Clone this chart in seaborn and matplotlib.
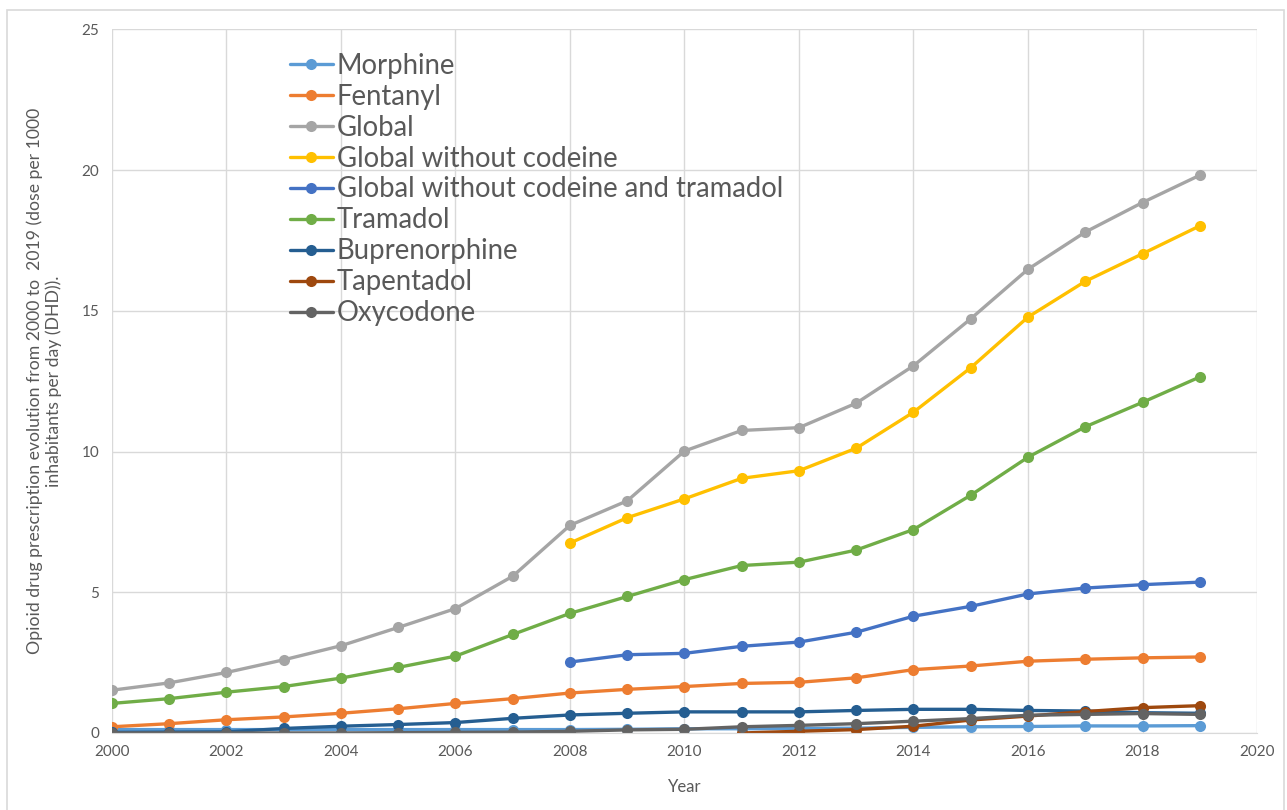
import numpy as np
import seaborn as sns
import matplotlib.pyplot as plt
from matplotlib.patches import Rectangle

# Jahre und Werte (DHD)
years = list(range(2000, 2020))
nan = np.nan

morphine = [0.12, 0.12, 0.12, 0.12, 0.12, 0.12, 0.12, 0.12, 0.12, 0.13,
            0.15, 0.15, 0.16, 0.17, 0.2, 0.22, 0.23, 0.25, 0.25, 0.26]
fentanyl = [0.22, 0.33, 0.47, 0.57, 0.7, 0.86, 1.05, 1.22, 1.42, 1.55,
            1.65, 1.76, 1.8, 1.96, 2.25, 2.38, 2.55, 2.62, 2.67, 2.7]
global_all = [1.52, 1.78, 2.15, 2.6, 3.1, 3.75, 4.42, 5.57, 7.38, 8.25,
              10.02, 10.75, 10.85, 11.72, 13.05, 14.72, 16.48, 17.8, 18.85, 19.82]
global_no_codeine = [nan] * 8 + [6.75, 7.65, 8.32, 9.05, 9.32, 10.12, 11.4,
                                 12.98, 14.78, 16.05, 17.03, 18.02]
global_no_codeine_tramadol = [nan] * 8 + [2.52, 2.78, 2.83, 3.08, 3.23, 3.58,
                                          4.15, 4.5, 4.94, 5.15, 5.27, 5.36]
tramadol = [1.05, 1.22, 1.45, 1.65, 1.95, 2.33, 2.73, 3.5, 4.25, 4.85,
            5.45, 5.95, 6.07, 6.5, 7.23, 8.45, 9.8, 10.88, 11.75, 12.65]
buprenorphine = [0.02, 0.03, 0.04, 0.16, 0.24, 0.3, 0.37, 0.52, 0.64, 0.7,
                 0.75, 0.75, 0.75, 0.8, 0.84, 0.84, 0.8, 0.78, 0.72, 0.7]
tapentadol = [nan] * 11 + [0.0, 0.06, 0.12, 0.24, 0.46, 0.6, 0.76, 0.9, 0.97]
oxycodone = [0.0, 0.0, 0.0, 0.0, 0.0, 0.01, 0.02, 0.03, 0.06, 0.11,
             0.13, 0.22, 0.27, 0.33, 0.42, 0.51, 0.63, 0.66, 0.69, 0.66]

series = [
    ("Morphine", morphine, "#5B9BD5"),
    ("Fentanyl", fentanyl, "#ED7D31"),
    ("Global", global_all, "#A5A5A5"),
    ("Global without codeine", global_no_codeine, "#FFC000"),
    ("Global without codeine and tramadol", global_no_codeine_tramadol, "#4472C4"),
    ("Tramadol", tramadol, "#70AD47"),
    ("Buprenorphine", buprenorphine, "#255E91"),
    ("Tapentadol", tapentadol, "#9E480E"),
    ("Oxycodone", oxycodone, "#636363"),
]

sns.set_style("white")
plt.rcParams["font.family"] = ["Lato", "DejaVu Sans"]

fig = plt.figure(figsize=(12.87, 8.10), dpi=100)
ax = fig.add_axes([0.087, 0.0951, 0.8897, 0.8685])

for name, vals, col in series:
    sns.lineplot(x=years, y=vals, ax=ax, color=col, linewidth=2.4, marker="o",
                 markersize=8, markeredgewidth=0, label=name)

ax.set_xlim(2000, 2020)
ax.set_ylim(0, 25)
ax.set_xticks(range(2000, 2021, 2))
ax.set_yticks(range(0, 26, 5))
ax.grid(True, color="#D9D9D9", linewidth=1)
ax.set_axisbelow(True)
for s in ["top", "right", "left"]:
    ax.spines[s].set_visible(False)
ax.spines["bottom"].set_color("#D9D9D9")
ax.tick_params(axis="both", length=0, labelsize=11, colors="#595959", pad=9)

ax.set_xlabel("Year", fontsize=12, color="#595959", labelpad=14)
ax.set_ylabel("Opioid drug prescription evolution from 2000 to  2019 (dose per 1000\n"
              "inhabitants per day (DHD)).", fontsize=12.7, color="#595959",
              labelpad=14, linespacing=1.2)

leg = ax.legend(loc="upper left", bbox_to_anchor=(0.1555, 0.967), frameon=False,
                fontsize=19.8, handlelength=1.55, handletextpad=0.15,
                labelspacing=0.18, borderaxespad=0, borderpad=0)
for t in leg.get_texts():
    t.set_color("#595959")

# Rahmen um das Diagramm
fig.patches.append(Rectangle((0.0055, -0.01), 0.9925, 0.998, transform=fig.transFigure,
                             fill=False, edgecolor="#D9D9D9", linewidth=1.2))

plt.savefig("out.png", dpi=100)
